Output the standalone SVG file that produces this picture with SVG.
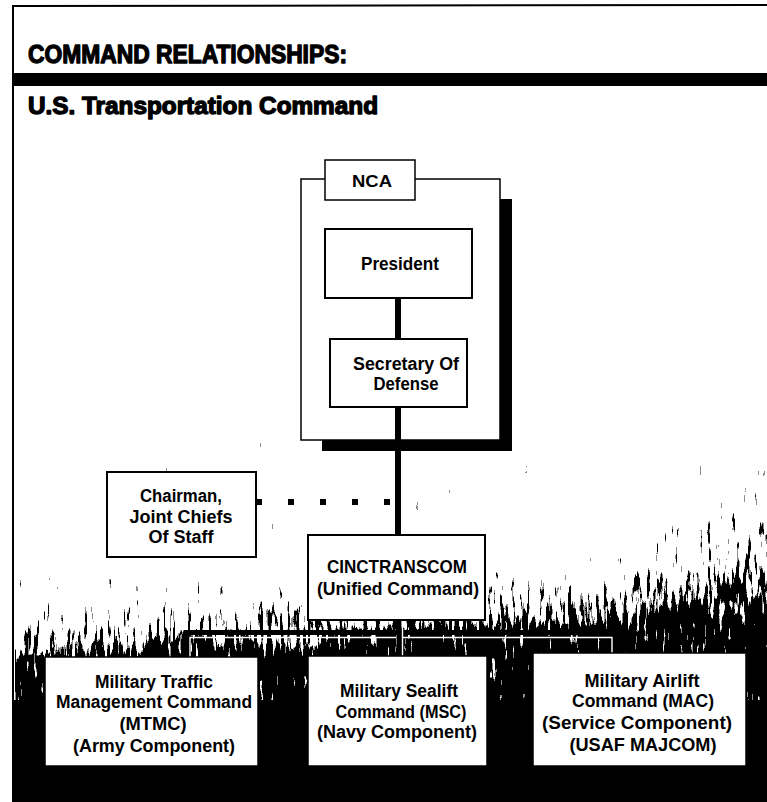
<svg xmlns="http://www.w3.org/2000/svg" width="767" height="802" viewBox="0 0 767 802">
<style>
.hd{font-family:"Liberation Sans Narrow","Liberation Sans",Arial,sans-serif;font-weight:bold;fill:#000;stroke:#000;stroke-width:1.3;stroke-linejoin:round}
.t{font-family:"Liberation Sans Narrow","Liberation Sans",Arial,sans-serif;font-weight:bold;fill:#000;text-anchor:middle}
.box{fill:#fff;stroke:#000;stroke-width:2}
.thin{fill:#fff;stroke:#000;stroke-width:1.5}
.wire{stroke:#000;stroke-width:6;fill:none}
.hl{stroke:#fff;stroke-width:1.4;fill:none}
</style>
<defs>
<linearGradient id="dark" gradientUnits="userSpaceOnUse" x1="400" y1="548" x2="409" y2="680">
<stop offset="0" stop-color="#000" stop-opacity="0"/>
<stop offset="0.3" stop-color="#000" stop-opacity="0.18"/>
<stop offset="0.54" stop-color="#000" stop-opacity="0.52"/>
<stop offset="0.7" stop-color="#000" stop-opacity="0.9"/>
<stop offset="0.82" stop-color="#000" stop-opacity="1"/>
</linearGradient>
<radialGradient id="dark2" gradientUnits="userSpaceOnUse" cx="790" cy="610" r="190">
<stop offset="0" stop-color="#000" stop-opacity="0.5"/>
<stop offset="0.5" stop-color="#000" stop-opacity="0.25"/>
<stop offset="1" stop-color="#000" stop-opacity="0"/>
</radialGradient>
<filter id="forest" filterUnits="userSpaceOnUse" x="15" y="440" width="752" height="362" color-interpolation-filters="sRGB">
<feTurbulence type="fractalNoise" baseFrequency="0.25 0.035" numOctaves="3" seed="7" result="noise"/>
<feColorMatrix in="noise" type="matrix" values="0 0 0 0 0  0 0 0 0 0  0 0 0 0 0  1 0 0 0 0" result="nA"/>
<feComposite in="SourceAlpha" in2="nA" operator="arithmetic" k1="0" k2="1.4" k3="2.4" k4="-1.5" result="v"/>
<feComponentTransfer in="v" result="t">
<feFuncA type="discrete" tableValues="0 0 0 0 0 0.45 1 1 1 1"/>
</feComponentTransfer>
<feFlood flood-color="#000" result="blk"/>
<feComposite in="blk" in2="t" operator="in"/>
</filter>
</defs>

<g id="frame">
<line x1="12" y1="6" x2="767" y2="5" stroke="#000" stroke-width="2"/>
<line x1="13" y1="5" x2="13" y2="802" stroke="#000" stroke-width="2"/>
<rect x="12" y="73" width="755" height="13" fill="#000"/>
<text class="hd" x="28" y="63" font-size="25" textLength="319" lengthAdjust="spacingAndGlyphs">COMMAND RELATIONSHIPS:</text>
<text class="hd" x="28" y="114" font-size="23" textLength="350" lengthAdjust="spacingAndGlyphs">U.S. Transportation Command</text>
</g>

<g id="texture">
<g filter="url(#forest)">
<rect x="15" y="440" width="752" height="362" fill="url(#dark)"/>
<rect x="15" y="440" width="752" height="362" fill="url(#dark2)"/>
</g>
<rect x="14" y="700" width="753" height="102" fill="#000"/>
</g>

<g id="nca">
<rect x="322" y="199" width="190" height="252" fill="#000"/>
<rect class="thin" x="301" y="179" width="199" height="261"/>
<rect class="thin" x="325" y="160" width="90" height="40"/>
<text class="t" x="372" y="187" font-size="17" textLength="40" lengthAdjust="spacingAndGlyphs">NCA</text>
</g>

<g id="connectors">
<line class="wire" x1="398" y1="298" x2="398" y2="339"/>
<line class="wire" x1="398" y1="407" x2="398" y2="535"/>
<line x1="256" y1="502" x2="392" y2="502" stroke="#000" stroke-width="6" stroke-dasharray="6 26"/>
<line x1="399" y1="620" x2="399" y2="657" stroke="#000" stroke-width="5"/>
<path d="M186,657 V632.5 H616 V654" stroke="#000" stroke-width="5" fill="none"/>
<path class="hl" d="M190,657 V637.5 H396"/>
<path class="hl" d="M402.5,621 V656"/>
<path class="hl" d="M402.5,637.5 H612 V654"/>
</g>

<g id="president">
<rect class="box" x="325" y="229" width="147" height="69"/>
<text class="t" x="400" y="270" font-size="18" textLength="78" lengthAdjust="spacingAndGlyphs">President</text>
</g>

<g id="secdef">
<rect class="box" x="330" y="339" width="137" height="68"/>
<text class="t" x="406" y="370" font-size="18" textLength="106" lengthAdjust="spacingAndGlyphs">Secretary Of</text>
<text class="t" x="406" y="390" font-size="18" textLength="65" lengthAdjust="spacingAndGlyphs">Defense</text>
</g>

<g id="chairman">
<rect class="box" x="107" y="472" width="149" height="85"/>
<text class="t" x="181" y="502" font-size="18" textLength="82" lengthAdjust="spacingAndGlyphs">Chairman,</text>
<text class="t" x="181" y="523" font-size="18" textLength="103" lengthAdjust="spacingAndGlyphs">Joint Chiefs</text>
<text class="t" x="181" y="543" font-size="18" textLength="65" lengthAdjust="spacingAndGlyphs">Of Staff</text>
</g>

<g id="cinctranscom">
<rect class="box" x="308" y="535" width="177" height="85"/>
<text class="t" x="397" y="573" font-size="18" textLength="140" lengthAdjust="spacingAndGlyphs">CINCTRANSCOM</text>
<text class="t" x="398" y="595" font-size="18" textLength="162" lengthAdjust="spacingAndGlyphs">(Unified Command)</text>
</g>

<g id="mtmc">
<rect class="thin" x="45" y="657" width="213" height="109"/>
<text class="t" x="154" y="688" font-size="18" textLength="118" lengthAdjust="spacingAndGlyphs">Military Traffic</text>
<text class="t" x="154" y="708" font-size="18" textLength="196" lengthAdjust="spacingAndGlyphs">Management Command</text>
<text class="t" x="153" y="730" font-size="18" textLength="67" lengthAdjust="spacingAndGlyphs">(MTMC)</text>
<text class="t" x="154" y="752" font-size="18" textLength="162" lengthAdjust="spacingAndGlyphs">(Army Component)</text>
</g>

<g id="msc">
<rect class="thin" x="308" y="656" width="179" height="110"/>
<text class="t" x="399" y="697" font-size="18" textLength="118" lengthAdjust="spacingAndGlyphs">Military Sealift</text>
<text class="t" x="401" y="718" font-size="18" textLength="131" lengthAdjust="spacingAndGlyphs">Command (MSC)</text>
<text class="t" x="397" y="738" font-size="18" textLength="160" lengthAdjust="spacingAndGlyphs">(Navy Component)</text>
</g>

<g id="mac">
<rect class="thin" x="533" y="653" width="213" height="113"/>
<text class="t" x="642" y="687" font-size="18" textLength="115" lengthAdjust="spacingAndGlyphs">Military Airlift</text>
<text class="t" x="643" y="707" font-size="18" textLength="142" lengthAdjust="spacingAndGlyphs">Command (MAC)</text>
<text class="t" x="637" y="729" font-size="18" textLength="190" lengthAdjust="spacingAndGlyphs">(Service Component)</text>
<text class="t" x="643" y="751" font-size="18" textLength="147" lengthAdjust="spacingAndGlyphs">(USAF MAJCOM)</text>
</g>
</svg>
